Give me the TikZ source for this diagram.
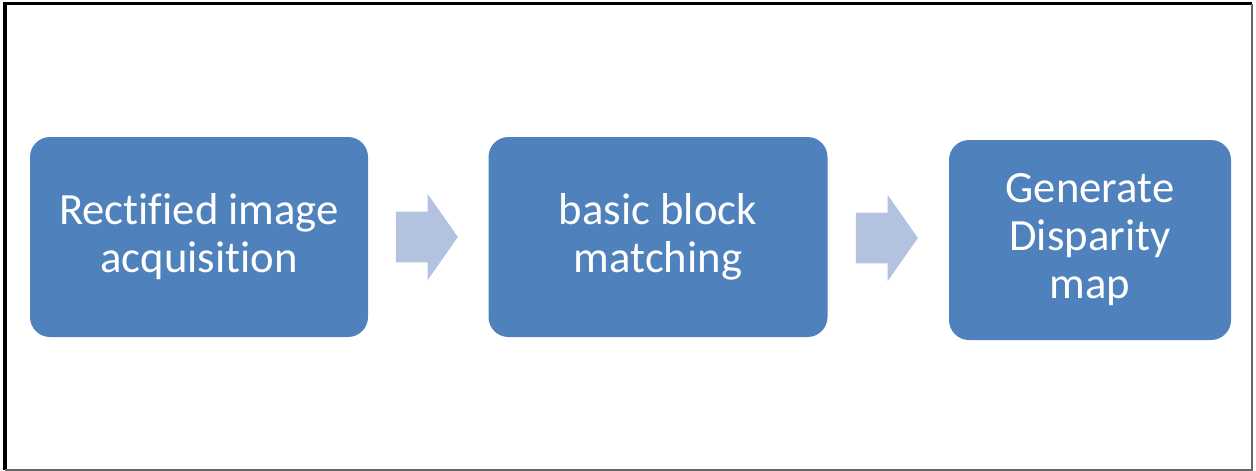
\documentclass[tikz,border=0pt]{standalone}
\usepackage{fontspec}
\setmainfont{Carlito}[Ligatures={NoCommon,NoContextual,NoRequired}]
\usetikzlibrary{shapes.arrows}
\definecolor{boxblue}{HTML}{4F81BD}
\definecolor{arrowblue}{HTML}{B3C3DF}
\tikzset{
  stagebox/.style={rectangle,rounded corners=15pt,fill=boxblue,text=white,align=center,inner sep=0pt,minimum height=150pt,font=\fontsize{33.5}{36}\selectfont},
  blockarrow/.style={single arrow,fill=arrowblue,inner xsep=0pt,inner ysep=18.75pt,minimum height=46.5pt,single arrow head extend=13.5pt,single arrow tip angle=110}
}
\begin{document}
\begin{tikzpicture}[x=0.75pt,y=-0.75pt]
\useasboundingbox (0,0) rectangle (1256,471);
\draw[line width=2.4pt] (5,470) -- (5,3.5) -- (1252,3.5);
\draw[gray!80!black,line width=1pt] (1252,3.5) -- (1252,470) -- (5,470);
\node[stagebox,minimum width=253.5pt] at (199,237) (rect) {Rectified image\\acquisition};
\node[stagebox,minimum width=254.25pt] at (658,237) (match) {basic block\\matching};
\node[stagebox,minimum width=211.5pt] at (1090,240) (disp) {Generate\\Disparity\\map};
\node[blockarrow] at (418,237) (a1) {};
\node[blockarrow] at (878,238) (a2) {};
\end{tikzpicture}
\end{document}
